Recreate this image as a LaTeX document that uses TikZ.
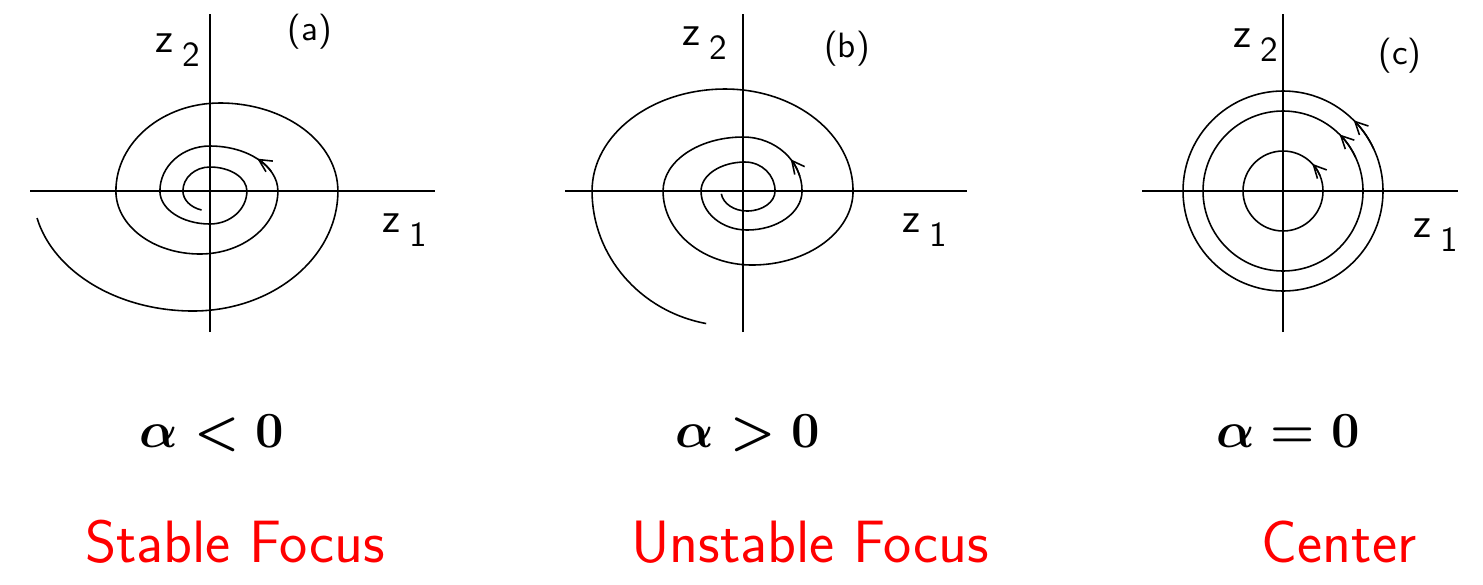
\documentclass[tikz,border=0pt]{standalone}
\usetikzlibrary{arrows.meta}
\tikzstyle{axisline} = [line width=0.45pt]
\tikzstyle{orbit} = [line width=0.45pt]
\tikzstyle{orbitdir} = [orbit, ->, >={Straight Barb[length=3.6pt,width=3.6pt]}]
\tikzstyle{panel} = [font=\sffamily\fontsize{10}{12}\selectfont]
\tikzstyle{axlabel} = [anchor=base west, inner sep=0pt, font=\sffamily\fontsize{10}{12}\selectfont]
\tikzstyle{cond} = [anchor=base, inner sep=0pt, font=\fontsize{15.5}{18}\selectfont\boldmath]
\tikzstyle{kind} = [anchor=base, inner sep=0pt, text=red, font=\sffamily\fontsize{17}{20}\selectfont]
\newcommand{\zsub}[1]{{\fontsize{12}{14}\selectfont z}\hspace{2.5pt}\raisebox{-4.2pt}{#1}}

\begin{document}
\begin{tikzpicture}[x=0.01cm, y=0.01cm]
\useasboundingbox (0,0) rectangle (1483,584);

% (a) Stable focus
\begin{scope}[shift={(210,393)}]
\draw [axisline] (-180,0) -- (225,0);
\draw [axisline] (0,-141) -- (0,177);
\draw [orbit] (-173,-27)
  arc[start angle=193, end angle=270, x radius=160, y radius=120]
  arc[start angle=270, end angle=360, x radius=145, y radius=120]
  arc[start angle=0, end angle=90, x radius=118, y radius=88]
  arc[start angle=90, end angle=180, x radius=104, y radius=88]
  arc[start angle=180, end angle=270, x radius=84, y radius=63]
  arc[start angle=270, end angle=360, x radius=78, y radius=63]
  arc[start angle=0, end angle=90, x radius=68, y radius=45]
  arc[start angle=90, end angle=180, x radius=50, y radius=45]
  arc[start angle=180, end angle=270, x radius=50, y radius=33]
  arc[start angle=270, end angle=360, x radius=37, y radius=33]
  arc[start angle=0, end angle=90, x radius=37, y radius=24]
  arc[start angle=90, end angle=180, x radius=27, y radius=24]
  arc[start angle=180, end angle=252, x radius=27, y radius=20];
\draw [orbitdir] (26:68 and 45) arc[start angle=26, end angle=46, x radius=68, y radius=45];
\end{scope}

% (b) Unstable focus
\begin{scope}[shift={(743,393)}]
\draw [axisline] (-178,0) -- (224,0);
\draw [axisline] (0,-141) -- (0,177);
\draw [orbit] (-21.7,-2.8)
  arc[start angle=188, end angle=270, x radius=26, y radius=20]
  arc[start angle=270, end angle=360, x radius=28, y radius=20]
  arc[start angle=0, end angle=90, x radius=30, y radius=29]
  arc[start angle=90, end angle=180, x radius=44, y radius=29]
  arc[start angle=180, end angle=270, x radius=46, y radius=39]
  arc[start angle=270, end angle=360, x radius=55, y radius=39]
  arc[start angle=0, end angle=90, x radius=59, y radius=54]
  arc[start angle=90, end angle=180, x radius=80, y radius=54]
  arc[start angle=180, end angle=270, x radius=89, y radius=74]
  arc[start angle=270, end angle=360, x radius=101, y radius=74]
  arc[start angle=0, end angle=90, x radius=128, y radius=102]
  arc[start angle=90, end angle=180, x radius=133, y radius=102]
  arc[start angle=180, end angle=259, x radius=141, y radius=135];
\draw [orbitdir] (16:59 and 54) arc[start angle=16, end angle=36, x radius=59, y radius=54];
\end{scope}

% (c) Center
\begin{scope}[shift={(1283,393)}]
\draw [axisline] (-141,0) -- (175,0);
\draw [axisline] (0,-141) -- (0,177);
\foreach \r/\a in {40/43, 80/45, 100/45} {
  \draw [orbit] (0,0) circle[radius=\r];
  \draw [orbitdir] (\a-20:\r) arc[start angle=\a-20, end angle=\a, radius=\r];
}
\end{scope}

% panel letters and axis names
\node (laba) [panel] at (310,552) {(a)};
\node (labb) [panel] at (847,535) {(b)};
\node (labc) [panel] at (1400,528) {(c)};
\node (z2a) [axlabel] at (155,532) {\zsub{2}};
\node (z1a) [axlabel] at (382,352) {\zsub{1}};
\node (z2b) [axlabel] at (682,539) {\zsub{2}};
\node (z1b) [axlabel] at (902,352) {\zsub{1}};
\node (z2c) [axlabel] at (1233,537) {\zsub{2}};
\node (z1c) [axlabel] at (1413,347) {\zsub{1}};

% conditions
\node (conda) [cond] at (212,137) {$\alpha<0$};
\node (condb) [cond] at (748,137) {$\alpha>0$};
\node (condc) [cond] at (1288,137) {$\alpha=0$};

% names
\node (kinda) [kind] at (235,22) {Stable Focus};
\node (kindb) [kind] at (810,22) {Unstable Focus};
\node (kindc) [kind] at (1339,22) {Center};

\end{tikzpicture}
\end{document}
